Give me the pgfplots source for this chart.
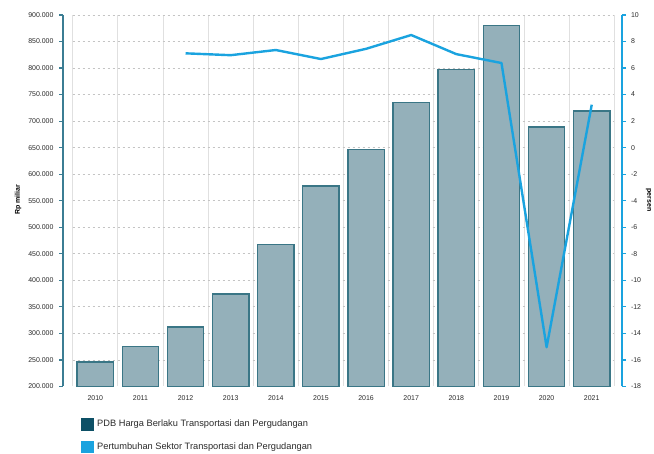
\documentclass[border=0pt]{standalone}
\usepackage{pgfplots}
\pgfplotsset{compat=1.18}
\usepackage{fontspec}
\setmainfont{Liberation Sans}
\definecolor{barfill}{HTML}{94B0BA}
\definecolor{baredge}{HTML}{3A7686}
\definecolor{axteal}{HTML}{3B7D93}
\definecolor{lineblue}{HTML}{1AA3DF}
\definecolor{legdark}{HTML}{0D5066}
\definecolor{ticktext}{HTML}{2A2A2A}
\definecolor{hgrid}{HTML}{C4C4C4}
\definecolor{vgrid}{HTML}{E0E0E0}
\begin{document}
\begin{tikzpicture}[x=1bp,y=1bp]
\useasboundingbox (0,0) rectangle (654,454);
% main axis: bars and grid
\begin{axis}[at={(72.7bp,67.5bp)}, anchor=south west, scale only axis,
  width=541.6bp, height=371.5bp,
  xmin=-0.5, xmax=11.5, ymin=200000, ymax=900000,
  axis line style={draw=none}, scaled y ticks=false,
  xtick={0,...,11}, xticklabels={2010,2011,2012,2013,2014,2015,2016,2017,2018,2019,2020,2021},
  minor xtick={-0.5,0.5,...,11.5}, xminorgrids, minor grid style={vgrid, line width=0.9bp},
  ytick={250000,300000,...,900000}, yticklabels={}, ymajorgrids,
  major grid style={hgrid, line width=0.8bp, dash pattern=on 2.5bp off 2.5bp},
  extra y ticks={650000}, extra y tick labels={},
  extra y tick style={grid style={gray!85, line width=0.8bp, dash pattern=on 2.5bp off 2.5bp}},
  major tick length=0pt, minor tick length=0pt,
  xticklabel style={font=\fontsize{7}{8}\selectfont, color=ticktext, yshift=-5.5bp},
  clip=true]
\addplot[ybar, bar width=36.4bp, bar shift=0pt, fill=barfill, draw=baredge, line width=1.3bp]
  coordinates {(0,246000) (1,275800) (2,312000) (3,374000) (4,467000) (5,578000)
               (6,646000) (7,735000) (8,797000) (9,880000) (10,689000) (11,719000)};
\end{axis}
% growth line
\begin{axis}[at={(72.7bp,67.5bp)}, anchor=south west, scale only axis,
  width=541.6bp, height=371.5bp,
  xmin=-0.5, xmax=11.5, ymin=-18, ymax=10, hide axis]
\addplot[lineblue, line width=2.4bp, line join=round]
  coordinates {(2,7.11) (3,6.97) (4,7.36) (5,6.68) (6,7.45) (7,8.49) (8,7.05) (9,6.38) (10,-15.04) (11,3.24)};
\end{axis}
% left axis
\begin{axis}[at={(63bp,67.5bp)}, anchor=south west, scale only axis,
  width=559bp, height=371.5bp,
  xmin=0, xmax=1, ymin=200000, ymax=900000,
  axis y line*=left, hide x axis,
  axis line style={axteal, line width=1.8bp, -},
  ytick={200000,250000,...,900000}, tick align=outside, major tick length=4bp,
  ytick style={axteal, line width=1.2bp},
  scaled y ticks=false,
  yticklabel style={font=\fontsize{7}{8}\selectfont, color=ticktext, xshift=-2bp,
    /pgf/number format/.cd, fixed, precision=0, 1000 sep={.}},
  /pgf/number format/assume math mode=true]
\end{axis}
% right axis
\begin{axis}[at={(63bp,67.5bp)}, anchor=south west, scale only axis,
  width=559bp, height=371.5bp,
  xmin=0, xmax=1, ymin=-18, ymax=10,
  axis y line*=right, hide x axis,
  axis line style={lineblue, line width=1.8bp, -},
  ytick={-18,-16,...,10}, tick align=outside, major tick length=4bp,
  ytick style={lineblue, line width=1.2bp},
  yticklabel style={font=\fontsize{7}{8}\selectfont, color=ticktext, xshift=1.5bp},
  /pgf/number format/assume math mode=true]
\end{axis}
% axis titles
\node[rotate=90, font=\fontsize{7}{8}\selectfont\bfseries] at (18,254) {Rp miliar};
\node[rotate=-90, font=\fontsize{7}{8}\selectfont\bfseries] at (648.5,254) {persen};
% legend
\fill[legdark] (81,23.3) rectangle ++(12.6,12.6);
\node[anchor=west, font=\fontsize{9.3}{10}\selectfont, color=ticktext, inner sep=0pt] at (97,29.8) {PDB Harga Berlaku Transportasi dan Pergudangan};
\fill[lineblue] (81,0.7) rectangle ++(12.6,12.6);
\node[anchor=west, font=\fontsize{9.3}{10}\selectfont, color=ticktext, inner sep=0pt] at (97,7.2) {Pertumbuhan Sektor Transportasi dan Pergudangan};
\end{tikzpicture}
\end{document}
